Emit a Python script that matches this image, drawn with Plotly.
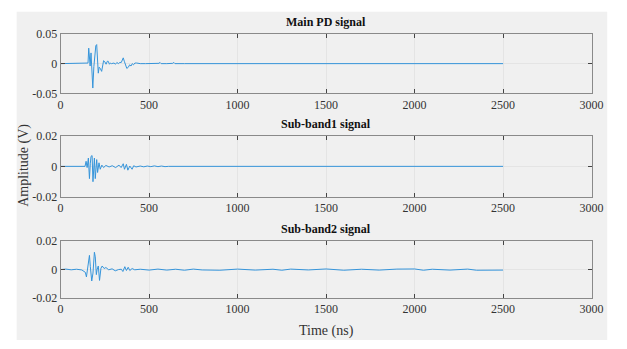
import plotly.graph_objects as go

# ---------------- data ----------------
t_main = [0, 60, 120, 150, 155, 159, 163, 167, 172, 177, 182, 188, 194, 199, 204, 209, 213,
          218, 224, 232, 238, 243, 250, 257, 264, 269, 276, 282, 287, 295, 302, 310, 318,
          326, 335, 343, 350, 354, 360, 367, 374, 383, 390, 398, 405, 412, 420, 430, 440,
          450, 480, 520, 556, 562, 568, 600, 634, 640, 646, 700, 800, 900, 1000, 1100,
          1200, 1300, 1400, 1500, 1600, 1700, 1800, 1900, 2000, 2100, 2200, 2300, 2400, 2500]
v_main = [0, 0, 0, 0, 0.001, 0.026, 0.005, -0.004, 0.018, -0.02, -0.041, -0.005, 0.02, 0.03,
          0.032, 0.01, -0.016, -0.006, -0.008, -0.013, -0.002, 0.005, 0.003, -0.001, 0.004,
          0.004, -0.001, 0.001, 0.0, 0.0, 0.001, -0.001, 0.002, 0.0, 0.002, 0.002, 0.006,
          0.0097, 0.004, -0.003, -0.008, -0.006, -0.002, -0.004, 0.0, -0.002, 0.001, 0.001,
          0.0005, 0.0, 0.0, 0.0, 0.0005, 0.002, 0.0, 0.0, 0.0005, 0.002, 0.0, 0, 0, 0, 0, 0,
          0, 0, 0, 0, 0, 0, 0, 0, 0, 0, 0, 0, 0, 0]

t_sb1 = [0, 60, 120, 138, 144, 150, 157, 163, 168, 172, 178, 183, 191, 196, 204, 209, 217,
         224, 233, 243, 256, 274, 292, 311, 330, 342, 354, 361, 372, 380, 391, 404, 413,
         426, 450, 470, 490, 510, 530, 550, 570, 590, 610, 700, 1000, 1500, 2000, 2500]
v_sb1 = [0, 0, 0, 0, 0.0033, -0.0008, 0.0054, -0.008, 0.002, 0.0065, 0.007, -0.010, 0.0054,
         -0.008, 0.0044, -0.004, 0.0023, -0.0019, 0.0008, -0.0008, 0.0006, -0.0004, 0.0004,
         -0.0008, 0.0008, -0.0008, 0.0017, -0.0019, 0.0013, -0.0025, 0.0002, -0.0019, 0.0004,
         -0.0004, 0.0002, -0.0003, 0.0002, -0.0002, 0.0003, -0.0002, 0.0002, -0.0002, 0.0,
         0, 0, 0, 0, 0]

t_sb2 = [0, 30, 60, 90, 120, 140, 146, 152, 163, 168, 176, 183, 191, 196, 202, 206, 213,
         220, 228, 235, 246, 256, 272, 291, 309, 328, 343, 352, 363, 372, 382, 391, 404,
         419, 450, 500, 550, 600, 650, 700, 750, 800, 900, 1000, 1100, 1200, 1250, 1300,
         1400, 1500, 1600, 1700, 1800, 1900, 2000, 2050, 2100, 2200, 2300, 2350, 2400, 2500]
v_sb2 = [0, 0.0003, -0.0002, 0.0002, -0.0003, -0.002, -0.0052, 0.0009, 0.010, 0.002, -0.0081,
         -0.0025, 0.0122, 0.009, -0.0036, -0.0002, 0.0025, -0.0077, 0.0009, 0.0025, 0.0007,
         0.0014, -0.0002, 0.0005, -0.0009, 0.0, 0.0002, -0.0014, 0.002, -0.0007, 0.0016,
         -0.0007, 0.0007, -0.0002, 0.0002, -0.0004, 0.0003, -0.0004, 0.0002, -0.0005, 0.0003,
         -0.0003, -0.0005, 0.0003, -0.0004, 0.0002, -0.0005, 0.0003, -0.0003, 0.0004, -0.0005,
         0.0002, -0.0004, 0.0003, 0.0004, -0.0005, 0.0002, -0.0004, 0.0003, -0.0005, -0.0003,
         -0.0004]

titles = ["Main PD signal", "Sub-band1 signal", "Sub-band2 signal"]
x_ticks = [0, 500, 1000, 1500, 2000, 2500, 3000]
x_ticktext = ["0", "500", "1000", "1500", "2000", "2500", "3000"]
y_ticks_main = [-0.05, 0, 0.05]
y_ticktext_main = ["-0.05", "0", "0.05"]
y_ticks_sb = [-0.02, 0, 0.02]
y_ticktext_sb = ["-0.02", "0", "0.02"]

# ---------------- figure ----------------
W, H = 627, 349
FONT = "Liberation Serif, Times New Roman, serif"
LINE = "#3594da"
AX = "#8a8a8a"
GRID = "#e4e4e4"

fig = go.Figure()

series = [(t_main, v_main), (t_sb1, v_sb1), (t_sb2, v_sb2)]
# panel pixel positions (top, bottom)
panels = [(28, 90), (134, 198), (244, 303)]
x0, x1 = 59, 603
yranges = [(-0.05, 0.05), (-0.02, 0.02), (-0.02, 0.02)]
yticks = [(y_ticks_main, y_ticktext_main), (y_ticks_sb, y_ticktext_sb), (y_ticks_sb, y_ticktext_sb)]

# grey figure background
fig.add_shape(type="rect", xref="paper", yref="paper",
              x0=14 / W, x1=619 / W, y0=1 - 347 / H, y1=1 - 5 / H,
              fillcolor="#f0f0f0", line=dict(width=0), layer="below")

for i, ((t, v), (top, bot)) in enumerate(zip(series, panels)):
    n = "" if i == 0 else str(i + 1)
    fig.add_trace(go.Scatter(x=t, y=v, mode="lines", line=dict(color=LINE, width=1),
                             xaxis="x" + n, yaxis="y" + n, showlegend=False,
                             hoverinfo="skip"))
    fig.layout["xaxis" + n] = dict(
        domain=[x0 / W, x1 / W], anchor="y" + n, range=[0, 3000],
        tickvals=x_ticks, ticktext=x_ticktext, ticks="inside", ticklen=4,
        tickcolor="#444", showline=True, linecolor=AX, linewidth=1, mirror="ticks",
        showgrid=True, gridcolor=GRID, gridwidth=1, zeroline=False,
        tickfont=dict(family=FONT, size=12, color="#333"), fixedrange=True)
    fig.layout["yaxis" + n] = dict(
        domain=[1 - bot / H, 1 - top / H], anchor="x" + n, range=list(yranges[i]),
        tickvals=yticks[i][0], ticktext=yticks[i][1], ticks="inside", ticklen=4,
        tickcolor="#444", showline=True, linecolor=AX, linewidth=1, mirror="ticks",
        showgrid=True, gridcolor=GRID, gridwidth=1, zeroline=False,
        tickfont=dict(family=FONT, size=12, color="#333"), fixedrange=True)
    fig.add_annotation(text="<b>" + titles[i] + "</b>", xref="paper", yref="paper",
                       x=(x0 + x1) / 2 / W, y=1 - (top - 3) / H, xanchor="center",
                       yanchor="bottom", showarrow=False,
                       font=dict(family=FONT, size=12, color="#111"))

fig.add_annotation(text="Amplitude (V)", xref="paper", yref="paper", x=22 / W, y=1 - 165 / H,
                   textangle=-90, showarrow=False, xanchor="center", yanchor="middle",
                   font=dict(family=FONT, size=14, color="#333"))
fig.add_annotation(text="Time (ns)", xref="paper", yref="paper", x=(x0 + x1) / 2 / W,
                   y=1 - 338 / H, showarrow=False, xanchor="center", yanchor="middle",
                   font=dict(family=FONT, size=14, color="#333"))

fig.update_layout(width=W, height=H, margin=dict(l=0, r=0, t=0, b=0),
                  paper_bgcolor="white", plot_bgcolor="white", showlegend=False)

fig.write_html("out.html")
